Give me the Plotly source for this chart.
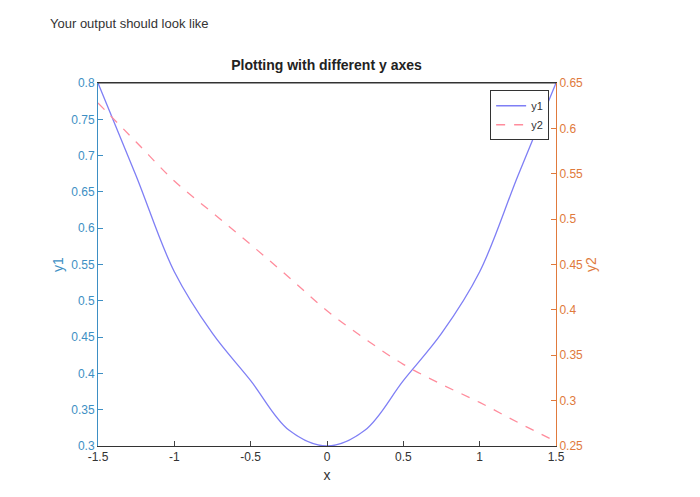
import plotly.graph_objects as go

x = [-1.5, -1.25, -1.0, -0.75, -0.5, -0.25, 0.0, 0.25, 0.5, 0.75, 1.0, 1.25, 1.5]
y1 = [0.8, 0.672, 0.54, 0.455, 0.39, 0.322, 0.3, 0.322, 0.39, 0.455, 0.54, 0.672, 0.8]
y2 = [0.628, 0.585, 0.542, 0.507, 0.472, 0.436, 0.399, 0.368, 0.34, 0.318, 0.298, 0.276, 0.255]

left_ticks = [0.3, 0.35, 0.4, 0.45, 0.5, 0.55, 0.6, 0.65, 0.7, 0.75, 0.8]
right_ticks = [0.25, 0.3, 0.35, 0.4, 0.45, 0.5, 0.55, 0.6, 0.65]
x_ticks = [-1.5, -1, -0.5, 0, 0.5, 1, 1.5]

blue = '#3d8fc4'
orange = '#e07a3c'

fig = go.Figure()
fig.add_trace(go.Scatter(x=x, y=y1, mode='lines', name='y1', line=dict(color='#7f7ff5', width=1.3, shape='spline')))
fig.add_trace(go.Scatter(x=x, y=y2, mode='lines', name='y2', yaxis='y2', line=dict(color='#ff8c9c', width=1.3, dash='dash', shape='spline')))

fig.update_layout(
    width=700, height=497,
    paper_bgcolor='white', plot_bgcolor='white',
    font=dict(family='Liberation Sans, Arial', size=12, color='#333'),
    margin=dict(l=90, r=152, t=75, b=59),
    title=dict(text='<b>Plotting with different y axes</b>', x=0.455, xanchor='center', y=0.875, yanchor='bottom', font=dict(size=14, color='#222')),
    xaxis=dict(range=[-1.5, 1.5], tickvals=x_ticks, ticktext=[str(v) for v in x_ticks], ticks='inside', ticklen=5,
               showline=True, linecolor='#333', mirror=True, showgrid=False, zeroline=False,
               title=dict(text='x', standoff=6), tickfont=dict(color='#333')),
    yaxis=dict(range=[0.3, 0.8], tickvals=left_ticks, ticktext=[f'{v:g}' for v in left_ticks], ticks='inside', ticklen=5,
               showline=True, linecolor=blue, tickcolor=blue, showgrid=False, zeroline=False,
               tickfont=dict(color=blue), title=dict(text='y1', font=dict(color=blue), standoff=4)),
    yaxis2=dict(range=[0.25, 0.65], overlaying='y', side='right', tickvals=right_ticks, ticktext=[f'{v:g}' for v in right_ticks],
                ticks='inside', ticklen=5, showline=True, linecolor=orange, tickcolor=orange, showgrid=False, zeroline=False,
                tickfont=dict(color=orange), title=dict(text='y2', font=dict(color=orange), standoff=4)),
    legend=dict(x=0.985, y=0.98, xanchor='right', yanchor='top', bordercolor='#333', borderwidth=1,
                bgcolor='white', font=dict(size=11), tracegroupgap=0, itemwidth=30),
    annotations=[dict(text='Your output should look like', xref='paper', yref='paper', x=-0.11, y=1.19,
                      xanchor='left', yanchor='top', showarrow=False, font=dict(size=13, color='#333'))],
)
# top border in black
fig.add_shape(type='line', xref='paper', yref='paper', x0=0, x1=1, y0=1, y1=1, line=dict(color='#333', width=1))

fig.write_html("out.html")
